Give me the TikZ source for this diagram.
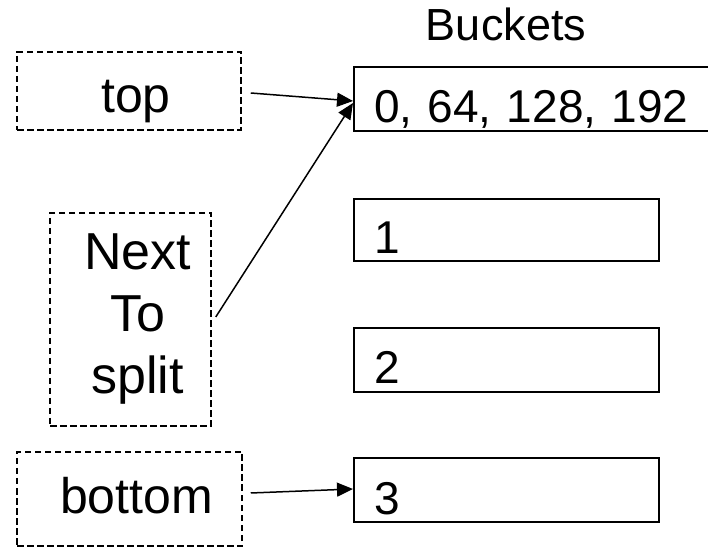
\documentclass[tikz,border=0pt]{standalone}
\usepackage{fontspec}
\setmainfont{Liberation Sans}
\usetikzlibrary{arrows.meta,positioning}

\tikzset{
	pointer/.style={draw, dash pattern=on 6.5pt off 3.5pt, line width=1.5pt, align=center, inner sep=0pt, font=\fontsize{50pt}{60pt}\selectfont},
	bucket/.style={draw, line width=2pt, anchor=west, minimum height=64pt, inner xsep=20pt, inner ysep=0pt, text width=265pt, align=left, text height=48pt, text depth=0pt, font=\fontsize{46pt}{55pt}\selectfont},
	link/.style={line width=1.5pt, -{Triangle[length=16pt,width=14pt]}}
}

\begin{document}
\begin{tikzpicture}[x=1pt,y=1pt]
			\fill[white] (0,0) rectangle (708,548);
			\path[use as bounding box, clip] (0,0) rectangle (708,548);

			% pointers
			\node[pointer, minimum width=224pt, minimum height=78pt, text height=44pt, text depth=0pt] (ptop) at (129,457) {~top};
			\node[pointer, minimum width=161pt, minimum height=213pt, font=\fontsize{52pt}{62pt}\selectfont] (pnext) at (130.5,228.5) {~Next\\ ~To\\ ~split};
			\node[pointer, minimum width=225pt, minimum height=94pt, text height=28pt, text depth=0pt] (pbot) at (129.5,49) {~bottom};

			% buckets
			\node[anchor=base, font=\fontsize{45pt}{54pt}\selectfont] (title) at (506,507) {Buckets};
			\node[bucket, text width=327pt] (b0) at (353,449) {0, 64, 128, 192};
			\node[bucket, minimum height=62pt, below=66pt of b0.south west, anchor=north west] (b1) {1};
			\node[bucket, below=65pt of b1.south west, anchor=north west] (b2) {2};
			\node[bucket, below=64pt of b2.south west, anchor=north west] (b3) {3};

			\draw[link] ([xshift=9pt,yshift=-2pt]ptop.east) -- ([yshift=-2pt]b0.west);
			\draw[link] ([xshift=4pt,yshift=2.5pt]pnext.east) -- ([yshift=-4pt]b0.west);
			\draw[link] ([xshift=8pt,yshift=6pt]pbot.east) -- ([yshift=1pt]b3.west);
		\end{tikzpicture}
\end{document}
